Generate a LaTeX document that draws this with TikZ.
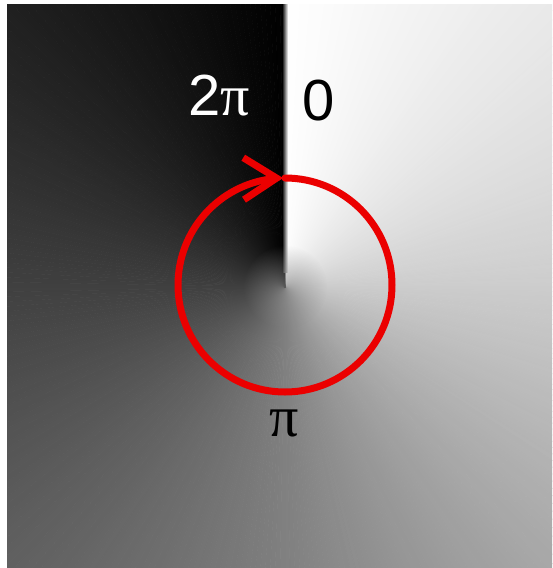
\documentclass[tikz,border=0pt]{standalone}
\usepackage{fontspec}
\setmainfont{Liberation Sans}
\newfontfamily\greekfont{Liberation Serif}
\usepackage{tikz}
\usetikzlibrary{arrows.meta, bending, fadings, calc}
\definecolor{loopred}{RGB}{235,0,0}
\tikzfading[name=coreblur, inner color=transparent!35, outer color=transparent!100]
\tikzset{
  phaselabel/.style={font=\fontsize{58}{64}\selectfont, inner sep=0pt},
  phaseloop/.style={draw=loopred, line width=7pt, line cap=round, -{Straight Barb[length=33pt, width=42pt, line width=7pt, flex=0]}}
}

\begin{document}
\begin{tikzpicture}[x=1pt, y=-1pt]
\useasboundingbox (0,0) rectangle (552,568);
\coordinate (core) at (285,287);
% phase map: grey level follows the angle round the core
\begin{scope}
  \clip (7,4) rectangle (552,568);
  \foreach \a in {0,...,359} {
    \pgfmathsetmacro{\greylevel}{\a/3.6 - (\a<180)*5*sin(\a)}
    \fill[black!\greylevel, draw=black!\greylevel, line width=0.6pt] (core)
      -- ({285+800*sin(\a)},{287-800*cos(\a)})
      -- ({285+800*sin(\a+1)},{287-800*cos(\a+1)}) -- cycle;
  }
  \shade[left color=black, right color=white] (282,4) rectangle (288,272);
  \fill[black!45, path fading=coreblur] (core) circle (42);
\end{scope}
% labels
\node[phaselabel, text=white] (twopi) at (219,96) {2{\greekfont π}};
\node[phaselabel] (zero) at (319,101) {0};
\node[phaselabel] (pi) at (284,423) {\greekfont π};
% loop round the core
\draw[phaseloop] (285,178) arc[start angle=-90, end angle=269, radius=107];
\end{tikzpicture}
\end{document}
